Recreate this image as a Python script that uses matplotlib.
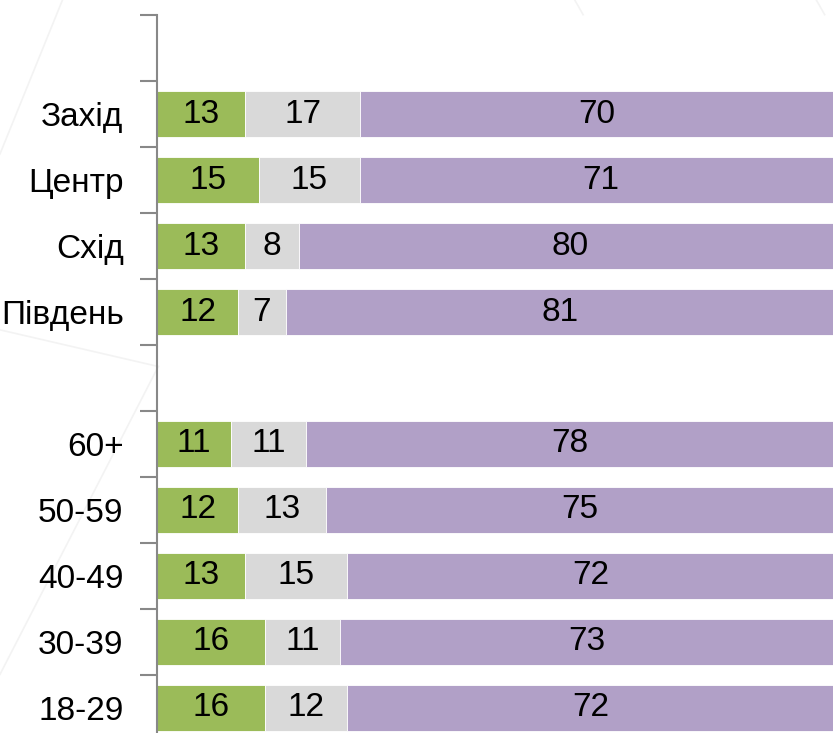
import matplotlib
matplotlib.use("Agg")
import matplotlib.pyplot as plt
from matplotlib.lines import Line2D
import numpy as np

plt.rcParams['font.family'] = ['Liberation Sans', 'DejaVu Sans']

# Categories from top to bottom ("" = empty spacer slot)
categories = ["", "Захід", "Центр", "Схід", "Південь", "", "60+", "50-59", "40-49", "30-39", "18-29"]
green_vals = [None, 13, 15, 13, 12, None, 11, 12, 13, 16, 16]
gray_vals = [None, 17, 15, 8, 7, None, 11, 13, 15, 11, 12]
purple_vals = [None, 70, 71, 80, 81, None, 78, 75, 72, 73, 72]

colors = ["#9BBB59", "#D9D9D9", "#B1A0C7"]

fig = plt.figure(figsize=(8.33, 7.33), dpi=100)

# faint decorative background lines
for (x0, y0, x1, y1) in [(0.0, 0.79, 0.075, 1.0), (0.0, 0.08, 0.19, 0.50),
                         (0.69, 1.0, 0.70, 0.98), (0.98, 1.0, 0.99, 0.98),
                         (0.0, 0.55, 0.19, 0.50)]:
    fig.add_artist(Line2D([x0, x1], [y0, y1], color="#F3F3F3", lw=1.2, zorder=0))

ax = fig.add_axes([157/833, 1 - 741/733, 677/833, 726/733])
ax.patch.set_alpha(0)

ys = np.arange(len(categories))
for i, (g, m, p) in enumerate(zip(green_vals, gray_vals, purple_vals)):
    if g is None:
        continue
    left = 0
    for v, c in zip((g, m, p), colors):
        ax.barh(i, v, left=left, height=0.71, color=c, edgecolor="white", linewidth=0.6)
        ax.text(left + v / 2, i, str(v), ha="center", va="center", fontsize=24, color="black")
        left += v

ax.set_xlim(0, 100)
ax.set_ylim(len(categories) - 0.5, -0.5)

ax.set_yticks(ys)
ax.set_yticklabels(categories, fontsize=24)
ax.tick_params(axis="y", which="major", length=0, pad=24)
ax.set_yticks(np.arange(-0.5, len(categories), 1.0), minor=True)
ax.tick_params(axis="y", which="minor", length=12, color="#888888", width=1.5)
ax.set_xticks([])

for s in ("top", "right", "bottom"):
    ax.spines[s].set_visible(False)
ax.spines["left"].set_color("#888888")
ax.spines["left"].set_linewidth(1.5)

fig.savefig("out.png", dpi=100)
